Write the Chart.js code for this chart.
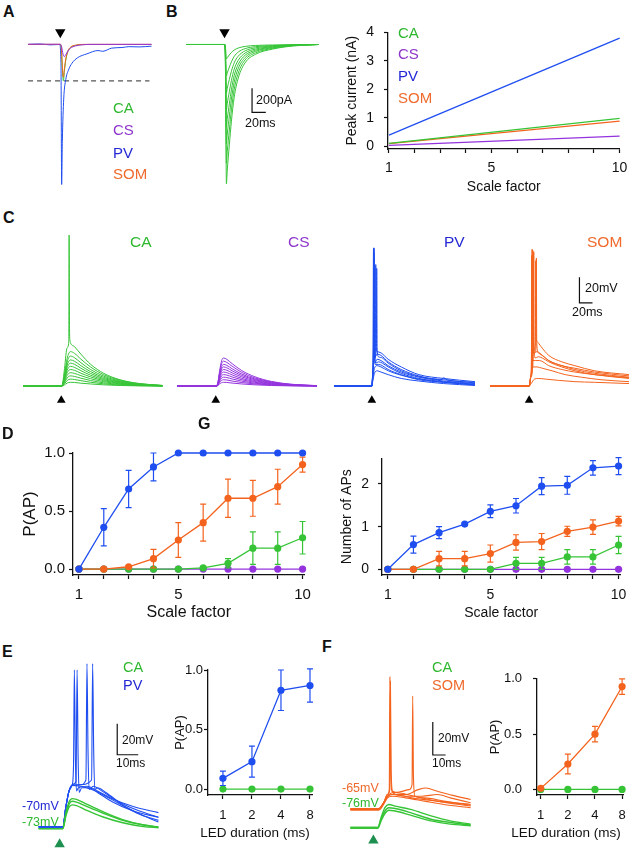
<!DOCTYPE html>
<html>
<head>
<meta charset="utf-8">
<script src="https://cdn.jsdelivr.net/npm/chart.js@4.4.1/dist/chart.umd.min.js"></script>
<style>
  html, body { margin: 0; padding: 0; background: #fff; }
  body { position: relative; width: 634px; height: 852px; overflow: hidden;
         font-family: "Liberation Sans", Arial, Helvetica, sans-serif; }
  canvas { position: absolute; }
  .lbl { position: absolute; white-space: nowrap; line-height: 1; transform: translateY(-50%); }
  .lbl.mid { transform: translate(-50%, -50%); }
</style>
</head>
<body>
<script>
// ---------- A: light evoked currents (ms from stimulus, pA) ----------
const currPV_A  = [[-47,0],[-30,4],[-15,-3],[-1,0],[1,-150],[2,-1155],[3,-800],[5,-450],[8,-290],[12,-210],[17,-155],[25,-110],[39,-77],[55,-50],[62,-56],[75,-30],[90,-25],[100,-18],[115,-20],[133,-14]];
const currCA_A  = [[-47,0],[0,0],[1.5,-30],[3,-200],[4.5,-300],[6,-220],[8,-130],[11,-60],[15,-25],[22,-8],[35,0],[133,0]];
const currSOM_A = [[-47,1],[0,1],[1.5,-25],[3,-180],[4.5,-270],[6,-200],[8,-120],[11,-55],[15,-22],[22,-6],[35,1],[133,1]];
const currCS_A  = [[-47,2],[0,2],[2,-20],[4,-80],[6,-100],[8,-85],[11,-55],[15,-30],[22,-12],[32,-3],[45,1],[133,1]];
const thresholdA = -300;

// ---------- B: CA currents at increasing light (ms, pA) ----------
const timeB = [-56, 0, 1, 2, 2.7, 4, 7, 10, 14, 20, 30, 45, 70, 100, 137];
const currB = [
  [0,0,-6,-72,-120,-108,-86,-66,-46,-29,-16,-8,-4,-1,0],
  [0,0,-13,-156,-260,-234,-187,-143,-99,-62,-34,-18,-9,-3,0],
  [0,0,-20,-240,-400,-360,-288,-220,-152,-96,-52,-28,-13,-4,0],
  [0,0,-27,-324,-540,-486,-389,-297,-205,-130,-70,-38,-18,-5,0],
  [0,0,-34,-408,-680,-612,-490,-374,-258,-163,-88,-48,-22,-7,0],
  [0,0,-41,-492,-820,-738,-590,-451,-312,-197,-107,-57,-27,-8,0],
  [0,0,-49,-588,-980,-882,-706,-539,-372,-235,-127,-69,-32,-10,0],
  [0,0,-58,-690,-1150,-1035,-828,-633,-437,-276,-150,-81,-38,-12,0]
];

// peak current (nA) vs scale factor
const peakX   = [1, 10];
const peakCA  = [0.10, 0.98];
const peakCS  = [0.03, 0.35];
const peakPV  = [0.39, 3.80];
const peakSOM = [0.09, 0.88];

// ---------- C: PSPs (ms, mV from rest) ----------
const timeCA = [-58, 0, 2, 5, 9, 14, 20, 30, 45, 65, 90, 120, 155];
const pspCA = [
  [0,0,0.2,1,2.4,3,2.9,2.3,1.7,1,0.5,0.2,0.1],
  [0,0,0.3,1.9,4.4,5.5,5.2,4.3,3,1.8,0.9,0.4,0.1],
  [0,0,0.4,2.8,6.4,8,7.6,6.2,4.4,2.6,1.4,0.6,0.2],
  [0,0,0.5,3.7,8.4,10.5,10,8.2,5.8,3.5,1.8,0.7,0.2],
  [0,0,0.7,4.6,10.4,13,12.4,10.1,7.2,4.3,2.2,0.9,0.3],
  [0,0,0.8,5.4,12.4,15.5,14.7,12.1,8.5,5.1,2.6,1.1,0.3],
  [0,0,0.9,6.3,14.4,18,17.1,14,9.9,5.9,3.1,1.3,0.4],
  [0,0,1,7.2,16.4,20.5,19.5,16,11.3,6.8,3.5,1.4,0.4],
  [0,0,1.2,8.2,18.8,23.5,22.3,18.3,12.9,7.8,4,1.6,0.5],
  [0,0,1.4,9.5,21.6,27,25.7,21.1,14.9,8.9,4.6,1.9,0.5]
];
const spikeCA = [[-58,0],[0,0],[2,2],[5,14],[9,30],[11.5,35],[12,118],[12.6,45],[13.2,36],[14,34],[20,31],[30,25],[45,17],[65,10],[90,5],[120,2],[155,0.5]];

const timeCS = [-59, 0, 3, 6, 9, 12, 17, 25, 40, 60, 85, 115, 155];
const pspCS = [
  [0,0,0.3,1.7,2.7,3,2.9,2.4,1.7,1,0.5,0.2,0.1],
  [0,0,0.5,2.8,4.5,5,4.8,4,2.8,1.7,0.9,0.4,0.1],
  [0,0,0.7,3.9,6.3,7,6.7,5.6,3.9,2.3,1.2,0.5,0.1],
  [0,0,0.9,5,8.1,9,8.6,7.2,5,3,1.5,0.6,0.2],
  [0,0,1.1,6,9.9,11,10.5,8.8,6,3.6,1.9,0.8,0.2],
  [0,0,1.3,7.2,11.7,13,12.4,10.4,7.2,4.3,2.2,0.9,0.3],
  [0,0,1.5,8.3,13.5,15,14.3,12,8.3,5,2.6,1.1,0.3],
  [0,0,1.7,9.4,15.3,17,16.2,13.6,9.4,5.6,2.9,1.2,0.3],
  [0,0,2,10.7,17.6,19.5,18.5,15.6,10.7,6.4,3.3,1.4,0.4],
  [0,0,2.2,12.1,19.8,22,20.9,17.6,12.1,7.3,3.7,1.5,0.4]
];

const pspPV = [
  [[-58,0],[0,0],[1.5,4],[4,10],[8,12],[14,11],[25,9],[45,6],[72,4],[110,2],[158,0.5]],
  [[-58,0],[0,0],[1.5,6],[4,14],[8,16],[14,15],[25,12],[45,8.5],[72,5.5],[110,3],[158,1]],
  [[-58,0],[0,0],[1.5,12],[2.2,30],[2.6,108],[3.2,40],[4,22],[8,25],[14,24],[25,19],[45,13],[72,8],[105,5],[110,6.5],[115,5],[158,3]],
  [[-58,0],[0,0],[1.5,12],[2.6,30],[3,104],[3.6,35],[4.5,22],[5.6,30],[6,95],[6.6,30],[8,27],[14,26],[25,21],[45,15],[72,9],[110,6],[158,3.5]],
  [[-58,0],[0,0],[1.5,10],[2.4,30],[2.8,106],[3.4,35],[4.5,18],[8,21],[14,20],[25,16],[45,11],[72,7],[110,4],[158,2]],
  [[-58,0],[0,0],[1.5,9],[3,20],[3.6,30],[4,100],[4.6,30],[6,18],[10,19],[16,18],[25,15],[45,10],[72,6],[110,3.5],[158,1.5]],
  [[-58,0],[0,0],[1.5,12],[2.1,30],[2.5,107],[3,35],[4,22],[7,30],[7.5,92],[8.1,30],[10,23],[16,22],[25,18],[45,12],[72,7.5],[110,5],[158,2.5]],
  [[-58,0],[0,0],[1.5,11],[3,32],[3.5,108],[4.1,35],[5,17],[10,17],[16,16],[25,13],[45,9],[72,5],[110,3],[158,1]]
];

const pspSOM = [
  [[-60,0],[0,0],[3,2],[8,5.5],[14,6],[25,5.5],[45,4.5],[70,3.5],[100,3],[153,2]],
  [[-60,0],[0,0],[2.5,8],[4,25],[4.5,107],[5.1,35],[6,20],[10,20],[16,20],[30,16],[50,13],[70,11],[100,9],[153,6.5]],
  [[-60,0],[0,0],[2.5,8],[5,28],[5.5,106],[6.1,35],[7,26],[12,27],[18,25],[30,20],[50,16],[70,14],[100,11],[153,8]],
  [[-60,0],[0,0],[2.5,7],[5.5,28],[6,104],[6.6,35],[8,28],[9.5,32],[10,98],[10.6,40],[12,35],[18,31],[30,24],[50,19],[70,16],[100,12],[153,9]],
  [[-60,0],[0,0],[2.5,7],[6.5,28],[7,105],[7.6,34],[9,22],[14,23],[20,22],[30,19],[50,15],[70,12],[100,9],[153,6]],
  [[-60,0],[0,0],[2.5,8],[4.5,28],[5,106],[5.6,34],[8,26],[10.5,30],[11,100],[11.6,34],[14,26],[20,24],[30,20],[50,16],[70,13],[100,10],[153,7]],
  [[-60,0],[0,0],[2.5,8],[3.5,28],[4,102],[4.6,30],[6,15],[12,15],[20,14],[35,12],[55,9],[80,7],[110,5],[153,3.5]]
];

// ---------- D / G: spiking vs scale factor ----------
const scaleFactor = [1, 2, 3, 4, 5, 6, 7, 8, 9, 10];
const scaleLabels = [1, 5, 10];
const probPV     = [0, 0.36, 0.69, 0.88, 1, 1, 1, 1, 1, 1];
const probPVErr  = [0, 0.16, 0.16, 0.12, 0, 0, 0, 0, 0, 0];
const probSOM    = [0, 0, 0.02, 0.09, 0.25, 0.40, 0.61, 0.61, 0.71, 0.90];
const probSOMErr = [0, 0, 0, 0.08, 0.15, 0.16, 0.165, 0.155, 0.15, 0.065];
const probCA     = [0, 0, 0, 0, 0, 0.01, 0.05, 0.18, 0.18, 0.27];
const probCAErr  = [0, 0, 0, 0, 0, 0, 0.04, 0.14, 0.14, 0.14];
const probCS     = [0, 0, 0, 0, 0, 0, 0, 0, 0, 0];

const apsPV      = [0, 0.58, 0.86, 1.06, 1.36, 1.49, 1.95, 1.97, 2.38, 2.42];
const apsPVErr   = [0, 0.2, 0.14, 0.03, 0.15, 0.17, 0.2, 0.21, 0.17, 0.2];
const apsSOM     = [0, 0, 0.25, 0.25, 0.37, 0.63, 0.65, 0.89, 0.99, 1.13];
const apsSOMErr  = [0, 0, 0.17, 0.17, 0.2, 0.18, 0.19, 0.12, 0.17, 0.11];
const apsCA      = [0, 0, 0, 0, 0, 0.14, 0.14, 0.29, 0.29, 0.57];
const apsCAErr   = [0, 0, 0, 0, 0, 0.14, 0.14, 0.17, 0.17, 0.2];
const apsCS      = [0, 0, 0, 0, 0, 0, 0, 0, 0, 0];

// ---------- E / F: LED duration ----------
const ledDuration = [1, 2, 4, 8];
const ledPV     = [0.09, 0.23, 0.83, 0.87];
const ledPVErr  = [0.06, 0.13, 0.17, 0.14];
const ledSOM    = [0.01, 0.23, 0.50, 0.93];
const ledSOMErr = [0, 0.09, 0.07, 0.07];
const ledCA     = [0, 0, 0, 0];

// E traces (ms, mV from rest)
const vmPV_E = [
  [[-10,0.8],[1.5,0.8],[3,14],[4.5,24],[6,28],[6.6,40],[7,102],[7.5,45],[8,24],[9,26],[13,27],[18,24],[25,19],[35,14],[47,10]],
  [[-10,0.8],[1.5,0.8],[3,14],[4.5,24],[6,28],[7.8,30],[8.3,102],[8.8,45],[9.3,23],[10.5,26],[14,26],[18,23],[25,17],[35,11],[47,7]],
  [[-10,0.8],[1.5,0.8],[3,14],[4.5,24],[6,27.5],[10,28],[12.5,31],[13,106],[13.5,50],[14,25],[16,27],[20,24],[28,17],[38,11],[47,7]],
  [[-10,0.8],[1.5,0.8],[3,14],[4.5,24],[6,27.5],[10,28],[15.2,31],[15.7,106],[16.2,50],[16.7,25],[18,26],[22,23],[30,15],[40,8],[47,4]],
  [[-10,0.8],[1.5,0.8],[3,14],[4.5,24],[6,27.5],[10,27],[15,25],[20,22],[28,16],[38,9],[47,5]]
];
const vmCA_E = [
  [[-10,-0.3],[1.5,-0.3],[3,10],[4.5,17],[6,19],[8,18.5],[12,16],[20,11],[30,5.5],[40,2],[47,0.6]],
  [[-10,-0.3],[1.5,-0.3],[3,9],[4.5,15.5],[6,17.3],[8,16.8],[12,14.5],[20,10],[30,5],[40,2],[47,0.8]],
  [[-10,-0.3],[1.5,-0.3],[3,8],[4.5,13.5],[6,15],[8,14.5],[12,12],[20,7.5],[30,3.5],[40,1],[47,0.3]]
];

// F traces (ms, mV)
const vmSOM_F = [
  [[-18,-65],[4,-65],[8,-61],[11,-56],[12.4,-53],[12.9,15.6],[13.5,-40],[14.5,-54],[18,-56],[30,-58],[50,-60],[76,-62]],
  [[-18,-65],[4,-65],[8,-61],[11,-56],[12.8,-53],[13.3,13],[13.9,-42],[15,-54],[20,-55],[32,-57],[50,-60],[76,-63]],
  [[-18,-65],[4,-65],[8,-61],[11,-57],[14,-55],[20,-54.5],[28,-53],[30.2,-50],[30.7,4],[31.3,-45],[32.5,-57],[40,-58],[55,-60],[76,-62.5]],
  [[-18,-65],[4,-65],[8,-61],[11,-57],[14,-56],[25,-56],[35,-53],[41,-52],[50,-54],[62,-56.5],[76,-59]],
  [[-18,-65.5],[4,-65.5],[8,-62],[11,-58],[15,-57],[25,-58],[40,-60],[55,-62],[76,-64]],
  [[-18,-64.5],[4,-64.5],[8,-61],[11,-57.5],[15,-56],[25,-57],[38,-57],[50,-56],[60,-58],[76,-61]]
];
const vmCA_F = [
  [[-18,-76],[3.5,-76],[6,-70],[9,-64],[12,-62],[17,-63],[29,-65],[45,-69],[60,-72],[76,-74]],
  [[-18,-76],[3.5,-76],[6,-71],[9,-66],[12,-64],[17,-64.5],[29,-67],[45,-71],[60,-73],[76,-74.5]],
  [[-18,-76.5],[3.5,-76.5],[6,-72],[9,-67.5],[12,-65.5],[17,-66],[29,-68.5],[45,-72],[60,-74],[76,-75]]
];

// ---------- styling ----------
const GREEN = '#36c436', PURPLE = '#9433dd', BLUE = '#1f4ef0', ORANGE = '#f4631d';
const GREEN_T = '#2fb82f', PURPLE_T = '#8e36cc', BLUE_T = '#2328d4', ORANGE_T = '#ef6a2c';
const INK = '#111';

Chart.defaults.font.family = '"Liberation Sans", Arial, Helvetica, sans-serif';
Chart.defaults.color = INK;

function makeCanvas(x0, y0, x1, y1) {
  const c = document.createElement('canvas');
  c.width = x1 - x0; c.height = y1 - y0;
  c.style.left = x0 + 'px'; c.style.top = y0 + 'px';
  c.style.width = (x1 - x0) + 'px'; c.style.height = (y1 - y0) + 'px';
  document.body.appendChild(c);
  return c;
}

function addLabel(text, x, y, size, color, bold, centred) {
  const d = document.createElement('div');
  d.className = centred ? 'lbl mid' : 'lbl';
  d.textContent = text;
  d.style.left = x + 'px';
  d.style.top = y + 'px';
  d.style.fontSize = size + 'px';
  d.style.color = color || INK;
  if (bold) d.style.fontWeight = 'bold';
  document.body.appendChild(d);
}

// --- trace panels ---
function pts(pairs) { return pairs.map(p => ({ x: p[0], y: p[1] })); }
function trace(pairs, color, w) {
  return { data: pts(pairs), borderColor: color, borderWidth: w || 1, pointRadius: 0, fill: false };
}
function traceT(times, vals, color, w) {
  return trace(times.map((t, i) => [t, vals[i]]), color, w);
}
function arrow(y, color, down, r) {
  return { data: [{ x: 0, y: y }], showLine: false, pointStyle: 'triangle', pointRadius: r || 6,
           pointRotation: down ? 180 : 0, pointBackgroundColor: color, pointBorderColor: color,
           pointBorderWidth: 0, clip: false };
}
function scaleBar(pairs) {
  return { data: pts(pairs), borderColor: INK, borderWidth: 1.2, pointRadius: 0,
           cubicInterpolationMode: 'default', tension: 0, fill: false };
}
function straight(pairs, color, dash) {
  return { data: pts(pairs), borderColor: color, borderWidth: 1.1, borderDash: dash || [],
           pointRadius: 0, cubicInterpolationMode: 'default', tension: 0, fill: false };
}

function traceChart(box, xr, yr, datasets) {
  const c = makeCanvas(box[0], box[1], box[2], box[3]);
  return new Chart(c, {
    type: 'line',
    data: { datasets: datasets },
    options: {
      responsive: false, animation: false, devicePixelRatio: 1, events: [],
      layout: { padding: 0 },
      plugins: { legend: { display: false }, tooltip: { enabled: false } },
      elements: { point: { radius: 0 }, line: { cubicInterpolationMode: 'monotone' } },
      scales: {
        x: { type: 'linear', display: false, min: xr[0], max: xr[1] },
        y: { type: 'linear', display: false, min: yr[0], max: yr[1] }
      }
    }
  });
}

// --- plot panels ---
const errorBars = {
  id: 'errorBars',
  beforeDatasetDraw(chart, args) {
    const ds = chart.data.datasets[args.index];
    if (!ds.errors) return;
    const ctx = chart.ctx, ys = chart.scales.y;
    ctx.save();
    ctx.strokeStyle = ds.borderColor;
    ctx.lineWidth = 1.2;
    args.meta.data.forEach((pt, i) => {
      const e = ds.errors[i];
      if (!e) return;
      const v = ds.data[i].y;
      const top = ys.getPixelForValue(v + e), bot = ys.getPixelForValue(v - e);
      ctx.beginPath();
      ctx.moveTo(pt.x, top); ctx.lineTo(pt.x, bot);
      ctx.moveTo(pt.x - 3, top); ctx.lineTo(pt.x + 3, top);
      ctx.moveTo(pt.x - 3, bot); ctx.lineTo(pt.x + 3, bot);
      ctx.stroke();
    });
    ctx.restore();
  }
};

function series(xs, ys, errs, color, r) {
  return {
    data: xs.map((x, i) => ({ x: x, y: ys[i] })),
    errors: errs,
    borderColor: color, backgroundColor: color,
    pointBackgroundColor: color, pointBorderWidth: 0,
    pointRadius: r === undefined ? 3.6 : r,
    borderWidth: 1.3, tension: 0, clip: false
  };
}

function axis(a, horiz) {
  return {
    type: a.type || 'linear', min: a.min, max: a.max,
    afterBuildTicks: s => { s.ticks = a.ticks.map(v => ({ value: v })); },
    afterFit: s => { if (horiz) s.height = a.size; else s.width = a.size; },
    ticks: { autoSkip: false, maxRotation: 0, padding: a.pad, color: INK,
             font: { size: a.font }, callback: a.fmt },
    grid: { drawOnChartArea: false, drawTicks: true, tickLength: 4, tickWidth: 1.2, tickColor: INK },
    border: { display: true, color: INK, width: 1.3 },
    title: { display: !!a.title, text: a.title, color: INK, font: { size: a.titleFont },
             padding: horiz ? { top: 0, bottom: a.titlePad } : { top: a.titlePad, bottom: 0 } }
  };
}

function plotChart(box, pad, xa, ya, datasets) {
  const c = makeCanvas(box[0], box[1], box[2], box[3]);
  return new Chart(c, {
    type: 'line',
    data: { datasets: datasets },
    options: {
      responsive: false, animation: false, devicePixelRatio: 1, events: [],
      layout: { padding: { left: 0, top: pad[0], right: pad[1], bottom: 0 } },
      plugins: { legend: { display: false }, tooltip: { enabled: false } },
      scales: { x: axis(xa, true), y: axis(ya, false) }
    },
    plugins: [errorBars]
  });
}

const scaleFmt = v => scaleLabels.includes(v) ? String(v) : '';
const oneDec = v => v.toFixed(1);

// ===== A =====
traceChart([20, 18, 160, 195], [-50, 136.7], [-1192, 169], [
  trace(currCS_A, PURPLE), trace(currSOM_A, ORANGE), trace(currCA_A, GREEN), trace(currPV_A, BLUE),
  straight([[-47, thresholdA], [130, thresholdA]], '#555', [5, 4]),
  arrow(100, '#000', true, 6)
]);

// ===== B traces =====
traceChart([180, 18, 325, 195], [-56, 137.3], [-1192, 169], [
  ...currB.map(v => traceT(timeB, v, GREEN, 1)),
  scaleBar([[40, -360], [40, -560], [60, -560]]),
  arrow(100, '#000', true, 6)
]);

// ===== B peak current =====
plotChart([336, 14, 634, 204], [10, 7],
  { min: 0.962, max: 10, ticks: scaleFactor, fmt: scaleFmt, size: 55, pad: 6.6, font: 14,
    title: 'Scale factor', titleFont: 14, titlePad: 8.6 },
  { min: -0.1, max: 4, ticks: [0, 1, 2, 3, 4], fmt: v => String(v), size: 52, pad: 10, font: 14,
    title: 'Peak current (nA)', titleFont: 14, titlePad: 7.6 },
  [series(peakX, peakPV, null, BLUE, 0), series(peakX, peakCA, null, GREEN, 0),
   series(peakX, peakSOM, null, ORANGE, 0), series(peakX, peakCS, null, PURPLE, 0)]);

// ===== C =====
const yC = [-16.3, 125.9];
traceChart([18, 220, 168, 412], [-58.6, 155.7], yC, [
  trace(spikeCA, GREEN), ...pspCA.map(v => traceT(timeCA, v, GREEN)), arrow(-11.1, '#000', false, 5)
]);
traceChart([172, 220, 322, 412], [-59.3, 155], yC, [
  ...pspCS.map(v => traceT(timeCS, v, PURPLE)), arrow(-11.1, '#000', false, 5)
]);
traceChart([329, 220, 480, 412], [-57.9, 157.9], yC, [
  ...pspPV.map(p => trace(p, BLUE)), arrow(-11.1, '#000', false, 5)
]);
traceChart([485, 220, 634, 412], [-60, 152.9], yC, [
  ...pspSOM.map(p => trace(p, ORANGE)), scaleBar([[77, 85], [77, 65], [97, 65]]),
  arrow(-11.1, '#000', false, 5)
]);

// ===== D =====
plotChart([12, 440, 318, 630], [11, 11],
  { min: 0.761, max: 10.08, ticks: scaleFactor, fmt: scaleFmt, size: 55, pad: 7, font: 15,
    title: 'Scale factor', titleFont: 16, titlePad: 7.4 },
  { min: -0.051, max: 1, ticks: [0, 0.5, 1], fmt: oneDec, size: 61, pad: 4, font: 15,
    title: 'P(AP)', titleFont: 17, titlePad: 7.8 },
  [series(scaleFactor, probPV, probPVErr, BLUE), series(scaleFactor, probSOM, probSOMErr, ORANGE),
   series(scaleFactor, probCA, probCAErr, GREEN), series(scaleFactor, probCS, null, PURPLE)]);

// ===== G =====
plotChart([330, 441, 634, 630], [11, 6],
  { min: 0.774, max: 10.075, ticks: scaleFactor, fmt: scaleFmt, size: 55, pad: 7.6, font: 14,
    title: 'Scale factor', titleFont: 14, titlePad: 8.6 },
  { min: -0.133, max: 2.6, ticks: [0, 1, 2], fmt: v => String(v), size: 52, pad: 9, font: 14,
    title: 'Number of APs', titleFont: 14, titlePad: 8.6 },
  [series(scaleFactor, apsPV, apsPVErr, BLUE), series(scaleFactor, apsSOM, apsSOMErr, ORANGE),
   series(scaleFactor, apsCA, apsCAErr, GREEN), series(scaleFactor, apsCS, null, PURPLE)]);

// ===== E traces =====
traceChart([28, 650, 168, 852], [-12.2, 48.7], [-11.5, 110.9], [
  ...vmCA_E.map(p => trace(p, GREEN, 1.4)), ...vmPV_E.map(p => trace(p, BLUE, 1.1)),
  scaleBar([[27.4, 67.3], [27.4, 47.3], [37.4, 47.3]]),
  arrow(-10.3, '#1d8f4e', false, 6)
]);

// ===== E P(AP) =====  (x title set as page text: the axis is narrower than the words)
plotChart([168, 660, 322, 850], [10, 7],
  { type: 'logarithmic', min: 0.704, max: 8.573, ticks: ledDuration, fmt: v => String(v), size: 55,
    pad: 8.2, font: 13 },
  { min: -0.05, max: 1, ticks: [0, 0.5, 1], fmt: oneDec, size: 40, pad: 1, font: 13,
    title: 'P(AP)', titleFont: 13, titlePad: 4.2 },
  [series(ledDuration, ledPV, ledPVErr, BLUE), series(ledDuration, ledCA, null, GREEN)]);

// ===== F traces =====
traceChart([340, 655, 480, 852], [-21.4, 78.6], [-87.3, 25.3], [
  ...vmSOM_F.map(p => trace(p, ORANGE, 1.1)), ...vmCA_F.map(p => trace(p, GREEN, 1.4)),
  scaleBar([[46.4, -11.9], [46.4, -31.9], [56.4, -31.9]]),
  arrow(-83.9, '#1d8f4e', false, 6)
]);

// ===== F P(AP) =====
plotChart([480, 660, 634, 850], [10, 4],
  { type: 'logarithmic', min: 0.909, max: 8.39, ticks: ledDuration, fmt: v => String(v), size: 55,
    pad: 8.2, font: 13 },
  { min: -0.05, max: 1, ticks: [0, 0.5, 1], fmt: oneDec, size: 57, pad: 11, font: 13,
    title: 'P(AP)', titleFont: 13, titlePad: 7.2 },
  [series(ledDuration, ledSOM, ledSOMErr, ORANGE), series(ledDuration, ledCA, null, GREEN)]);

// ===== text =====
const labels = [
  ['A', 3, 12, 16, INK, true], ['B', 166, 12, 16, INK, true], ['C', 3, 218, 16, INK, true],
  ['D', 2, 434, 16, INK, true], ['G', 198, 424, 16, INK, true],
  ['E', 2, 652, 16, INK, true], ['F', 322, 647, 16, INK, true],
  ['CA', 113, 107, 15, GREEN_T], ['CS', 113, 129, 15, PURPLE_T],
  ['PV', 113, 152, 15, BLUE_T], ['SOM', 113, 173, 15, ORANGE_T],
  ['200pA', 256, 100, 12.5], ['20ms', 245, 123, 12.5],
  ['CA', 398, 32, 15, GREEN_T], ['CS', 398, 53, 15, PURPLE_T],
  ['PV', 398, 75, 15, BLUE_T], ['SOM', 398, 97, 15, ORANGE_T],
  ['CA', 130, 242, 15.5, GREEN_T], ['CS', 288, 242, 15.5, PURPLE_T],
  ['PV', 444, 242, 15.5, BLUE_T], ['SOM', 587, 242, 15.5, ORANGE_T],
  ['20mV', 585, 288, 12.5], ['20ms', 572, 312, 12.5],
  ['CA', 123, 667, 14.5, GREEN_T], ['PV', 123, 685, 14.5, BLUE_T],
  ['-70mV', 22, 806, 12.5, BLUE_T], ['-73mV', 22, 822, 12.5, GREEN_T],
  ['20mV', 122, 740, 12], ['10ms', 116, 763, 12],
  ['CA', 432, 667, 14.5, GREEN_T], ['SOM', 432, 685, 14.5, ORANGE_T],
  ['-65mV', 342, 788, 12.5, ORANGE_T], ['-76mV', 342, 803, 12.5, GREEN_T],
  ['20mV', 438, 738, 12], ['10ms', 432, 763, 12],
  ['LED duration (ms)', 255, 833, 13.5, INK, false, true],
  ['LED duration (ms)', 566, 833, 13.5, INK, false, true]
];
labels.forEach(l => addLabel(l[0], l[1], l[2], l[3], l[4], l[5], l[6]));
</script>
</body>
</html>
